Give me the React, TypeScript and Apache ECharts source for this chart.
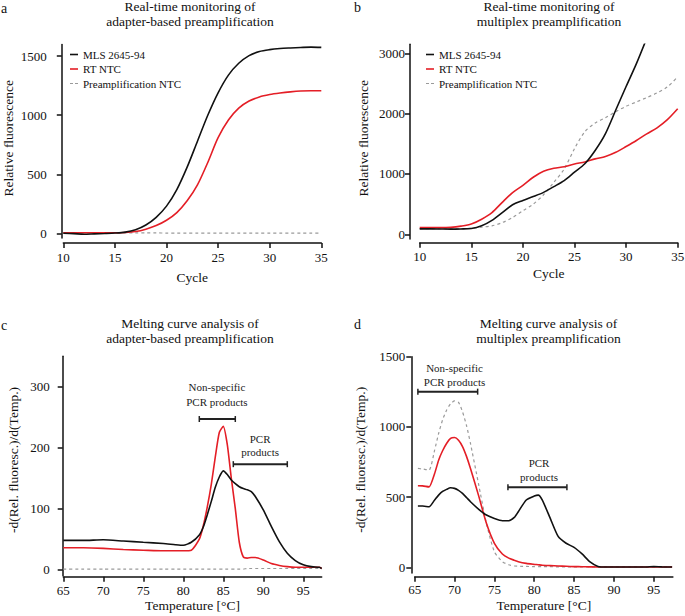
import React, { useEffect, useRef } from "react";
import * as echarts from "echarts";

const FONT = "Liberation Serif, Times New Roman, serif";

// ---- Panel a / b : real-time monitoring ----
const cycles = [10, 11, 12, 13, 14, 15, 16, 17, 18, 19, 20, 21, 22, 23, 24, 25, 26, 27, 28, 29, 30, 31, 32, 33, 34, 35];
const seriesNames = ["MLS 2645-94", "RT NTC", "Preamplification NTC"];

const aMLS = [0, -3, -8, -5, -2, 2, 10, 30, 70, 135, 230, 370, 560, 780, 1000, 1190, 1340, 1440, 1505, 1540, 1556, 1565, 1570, 1574, 1577, 1575];
const aRT = [5, 5, 5, 5, 5, 5, 7, 15, 35, 65, 110, 175, 275, 410, 600, 810, 960, 1060, 1120, 1155, 1175, 1188, 1198, 1205, 1207, 1207];
const aPre = [4, 4, 3, 3, 3, 3, 3, 3, 3, 3, 2, 2, 2, 2, 2, 2, 2, 2, 2, 2, 2, 2, 2, 2, 2, 2];

const bMLS = [90, 90, 88, 85, 88, 95, 140, 230, 360, 490, 560, 625, 695, 790, 890, 1030, 1170, 1390, 1670, 2060, 2450, 2830, 3250];
const bRT = [110, 110, 110, 115, 135, 170, 250, 360, 530, 690, 810, 945, 1045, 1095, 1120, 1165, 1200, 1250, 1290, 1360, 1455, 1555, 1665, 1765, 1900, 2080];
const bPre = [95, 95, 92, 90, 92, 100, 118, 139, 194, 278, 389, 500, 655, 861, 1083, 1420, 1700, 1844, 1933, 2033, 2122, 2194, 2267, 2344, 2444, 2611];

// ---- Panel c / d : melting curves ----
const tempsC = [65, 67.5, 70, 72.5, 75, 77.5, 79, 80, 81, 82, 82.5, 83, 83.5, 84, 84.5, 85, 85.5, 86, 86.5, 87, 87.5, 88, 88.5, 89, 90, 91, 92, 93, 94, 95, 96, 97, 97.3];
const cMLS = [48, 48, 49, 47, 45, 43, 41, 40, 45, 57, 70, 90, 112, 135, 152, 162, 156, 147, 141, 136, 133, 131, 128, 120, 98, 71, 46, 27, 15, 8, 5, 4, 2];
const cRT = [36, 36, 35, 33, 32, 31, 31, 31, 32, 50, 72, 103, 140, 185, 225, 235, 205, 150, 100, 45, 21, 19, 20, 20, 16, 10, 7, 5, 4, 4, 4, 4, 2];
const cPre = [1, 1, 1, 1, 1, 1, 1, 1, 1, 1, 1, 1, 1, 1, 1, 1, 1, 1, 1, 1, 1, 2, 2, 2, 2, 2, 2, 2, 2, 2, 2, 2, 2];

const tempsD = [65.4, 66, 66.8, 67.5, 68, 68.5, 69, 69.5, 70, 70.5, 71, 71.5, 72, 73, 74, 75, 76, 76.8, 77.5, 78, 79, 80, 80.5, 81, 82, 83, 84, 85, 86, 87, 88, 89, 90, 92, 94, 95, 96, 97.3];
const dMLS = [436, 436, 431, 479, 514, 540, 555, 566, 562, 548, 526, 497, 467, 415, 372, 348, 332, 332, 355, 396, 479, 507, 514, 480, 350, 220, 171, 142, 95, 38, 6, 2, 2, 2, 2, 5, 3, 2];
const dRT = [581, 580, 573, 668, 763, 830, 882, 918, 924, 905, 860, 790, 704, 514, 313, 171, 95, 65, 50, 40, 28, 21, 18, 15, 12, 9, 7, 5, 4, 3, 2, 2, 2, 2, 2, 2, 2, 2];
const dPre = [704, 700, 692, 834, 953, 1050, 1119, 1165, 1185, 1175, 1107, 1010, 882, 597, 313, 110, 40, 18, 10, 8, 6, 5, 5, 4, 4, 3, 3, 3, 3, 3, 3, 3, 3, 3, 3, 3, 3, 3];

// ---- ticks ----
const cycleTicks = [10, 15, 20, 25, 30, 35];
const tempTicks = [65, 70, 75, 80, 85, 90, 95];
const yTicksA = [0, 500, 1000, 1500];
const yTicksB = [0, 1000, 2000, 3000];
const yTicksC = [0, 100, 200, 300];
const yTicksD = [0, 500, 1000, 1500];

// ---- annotations (data coordinates) ----
const annC = [
  { lines: ["Non-specific", "PCR products"], tx: 84.2, ty: [299, 275], x1: 82, x2: 86.5, yb: 247 },
  { lines: ["PCR", "products"], tx: 89.6, ty: [215, 193], x1: 86.25, x2: 93, yb: 173 },
];
const annD = [
  { lines: ["Non-specific", "PCR products"], tx: 70.0, ty: [1417, 1322], x1: 65.4, x2: 72.9, yb: 1251 },
  { lines: ["PCR", "products"], tx: 80.6, ty: [741, 645], x1: 76.7, x2: 84.1, yb: 570 },
];

const BLACK = "#111111";
const RED = "#e41e26";
const GRAY = "#9a9a9a";

const SOLID_ICON = "path://M0,0h8v1.6h-8z";
const DASH_ICON = "path://M0,0h3v1.2h-3z M5,0h3v1.2h-3z";

const pairs = (xs: number[], ys: number[]) => ys.map((y, i) => [xs[i], y]);

function lineSeries(name: string, idx: number, xs: number[], ys: number[], kind: number, smooth: number) {
  const color = kind === 0 ? BLACK : kind === 1 ? RED : GRAY;
  return {
    type: "line",
    name,
    xAxisIndex: idx,
    yAxisIndex: idx,
    data: pairs(xs, ys),
    symbol: "none",
    showSymbol: false,
    smooth,
    z: kind === 2 ? 3 : kind === 1 ? 4 : 5,
    lineStyle: {
      color,
      width: kind === 2 ? 1.2 : 1.6,
      type: kind === 2 ? [3, 3] : "solid",
    },
    itemStyle: { color },
    emphasis: { disabled: true },
  };
}

function annSeries(idx: number, ann: typeof annC) {
  return {
    type: "custom",
    xAxisIndex: idx,
    yAxisIndex: idx,
    silent: true,
    clip: false,
    z: 10,
    data: ann.map((a) => [a.x1, a.yb]),
    renderItem: (params: any, api: any) => {
      const a = ann[params.dataIndex];
      const p1 = api.coord([a.x1, a.yb]);
      const p2 = api.coord([a.x2, a.yb]);
      const t1 = api.coord([a.tx, a.ty[0]]);
      const t2 = api.coord([a.tx, a.ty[1]]);
      const st = { stroke: "#222", lineWidth: 2 };
      const cap = { stroke: "#222", lineWidth: 1.5 };
      return {
        type: "group",
        children: [
          { type: "line", shape: { x1: p1[0], y1: p1[1], x2: p2[0], y2: p2[1] }, style: st },
          { type: "line", shape: { x1: p1[0], y1: p1[1] - 3, x2: p1[0], y2: p1[1] + 3 }, style: cap },
          { type: "line", shape: { x1: p2[0], y1: p2[1] - 3, x2: p2[0], y2: p2[1] + 3 }, style: cap },
          { type: "text", x: t1[0], y: t1[1], style: { text: a.lines[0], font: `11px ${FONT}`, fill: "#222", textAlign: "center", textVerticalAlign: "middle" } },
          { type: "text", x: t2[0], y: t2[1], style: { text: a.lines[1], font: `11px ${FONT}`, fill: "#222", textAlign: "center", textVerticalAlign: "middle" } },
        ],
      };
    },
  };
}

const axLine = { color: BLACK, width: 1.5 };
const plain = (v: number) => String(v);

function axis(idx: number, min: number, max: number, ticks: number[], offset: number, name: string, nameGap: number, margin: number, namePad = 0) {
  return {
    type: "value",
    gridIndex: idx,
    min,
    max,
    offset,
    axisLine: { show: true, onZero: false, lineStyle: axLine },
    axisTick: { show: true, length: 5, lineStyle: axLine, customValues: ticks },
    axisLabel: { customValues: ticks, formatter: plain, fontFamily: FONT, fontSize: 13, color: BLACK, margin },
    splitLine: { show: false },
    name,
    nameLocation: "middle",
    nameGap,
    nameTextStyle: { fontFamily: FONT, fontSize: 13.5, color: BLACK, padding: [0, 0, 0, namePad] },
  };
}

function txt(text: string, x: number, y: number, size: number, align = "center") {
  return {
    type: "text",
    x,
    y,
    silent: true,
    style: { text, font: `${size}px ${FONT}`, fill: BLACK, textAlign: align, textVerticalAlign: "middle" },
  };
}

export default function App() {
  const ref = useRef<HTMLDivElement>(null);
  useEffect(() => {
    if (!ref.current) return;
    const chart = echarts.init(ref.current, null, { renderer: "svg" });
    const legendData = [
      { name: seriesNames[0], icon: SOLID_ICON },
      { name: seriesNames[1], icon: SOLID_ICON },
      { name: seriesNames[2], icon: DASH_ICON },
    ];
    const legendBase = {
      data: legendData,
      orient: "vertical",
      top: 49,
      itemWidth: 8,
      itemHeight: 10,
      itemGap: 3.5,
      padding: 0,
      selectedMode: false,
      textStyle: { fontFamily: FONT, fontSize: 11, color: BLACK },
    };
    const yNameC = "-d(Rel. fluoresc.)/d(Temp.)";
    chart.setOption({
      animation: false,
      backgroundColor: "#ffffff",
      grid: [
        { left: 63.3, top: 44.4, width: 258, height: 193.6, outerBoundsMode: "none", containLabel: false },
        { left: 419.7, top: 44.3, width: 258, height: 194.8, outerBoundsMode: "none", containLabel: false },
        { left: 63.3, top: 356.2, width: 258.4, height: 219.6, outerBoundsMode: "none", containLabel: false },
        { left: 414.7, top: 356.7, width: 258.2, height: 216.2, outerBoundsMode: "none", containLabel: false },
      ],
      xAxis: [
        axis(0, 10, 35, cycleTicks, 5, "Cycle", 27, 8),
        axis(1, 10, 35, cycleTicks, 3.6, "Cycle", 24, 7.5),
        axis(2, 65, 97.3, tempTicks, 1, "Temperature [°C]", 21.5, 7),
        axis(3, 65, 97.4, tempTicks, 3.8, "Temperature [°C]", 21.5, 6.5),
      ],
      yAxis: [
        axis(0, -40, 1600, yTicksA, 1.5, "Relative fluorescence", 46.5, 15, 6),
        axis(1, -80, 3150, yTicksB, 9.7, "Relative fluorescence", 39.5, 5, 7),
        axis(2, -10, 350, yTicksC, 0.6, yNameC, 42.5, 13, 12),
        axis(3, -40, 1500, yTicksD, 3.4, yNameC, 44, 6, 10),
      ],
      legend: [
        { ...legendBase, left: 70 },
        { ...legendBase, left: 426 },
      ],
      series: [
        lineSeries(seriesNames[2], 0, cycles, aPre, 2, 0.3),
        lineSeries(seriesNames[1], 0, cycles, aRT, 1, 0.3),
        lineSeries(seriesNames[0], 0, cycles, aMLS, 0, 0.3),
        lineSeries(seriesNames[2], 1, cycles, bPre, 2, 0.3),
        lineSeries(seriesNames[1], 1, cycles, bRT, 1, 0.3),
        lineSeries(seriesNames[0], 1, cycles, bMLS, 0, 0.3),
        lineSeries("Preamplification NTC (c)", 2, tempsC, cPre, 2, 0.2),
        lineSeries("MLS 2645-94 (c)", 2, tempsC, cMLS, 0, 0.2),
        lineSeries("RT NTC (c)", 2, tempsC, cRT, 1, 0.2),
        lineSeries("Preamplification NTC (d)", 3, tempsD, dPre, 2, 0.2),
        lineSeries("MLS 2645-94 (d)", 3, tempsD, dMLS, 0, 0.2),
        lineSeries("RT NTC (d)", 3, tempsD, dRT, 1, 0.2),
        annSeries(2, annC),
        annSeries(3, annD),
      ],
      graphic: [
        txt("a", 1, 8, 14, "left"),
        txt("b", 354, 7, 14, "left"),
        txt("c", 1, 325, 14, "left"),
        txt("d", 354, 324, 14, "left"),
        txt("Real-time monitoring of", 190, 6, 13.5),
        txt("adapter-based preamplification", 190, 21.7, 13.5),
        txt("Real-time monitoring of", 549, 6, 13.5),
        txt("multiplex preamplification", 549, 21, 13.5),
        txt("Melting curve analysis of", 190, 323.3, 13.5),
        txt("adapter-based preamplification", 190, 338.3, 13.5),
        txt("Melting curve analysis of", 548.5, 323.3, 13.5),
        txt("multiplex preamplification", 548.5, 338.3, 13.5),
      ],
    });
    return () => chart.dispose();
  }, []);
  return (
    <div
      ref={ref}
      style={{ position: "fixed", left: 0, top: 0, width: 685, height: 616, background: "#fff" }}
    />
  );
}
